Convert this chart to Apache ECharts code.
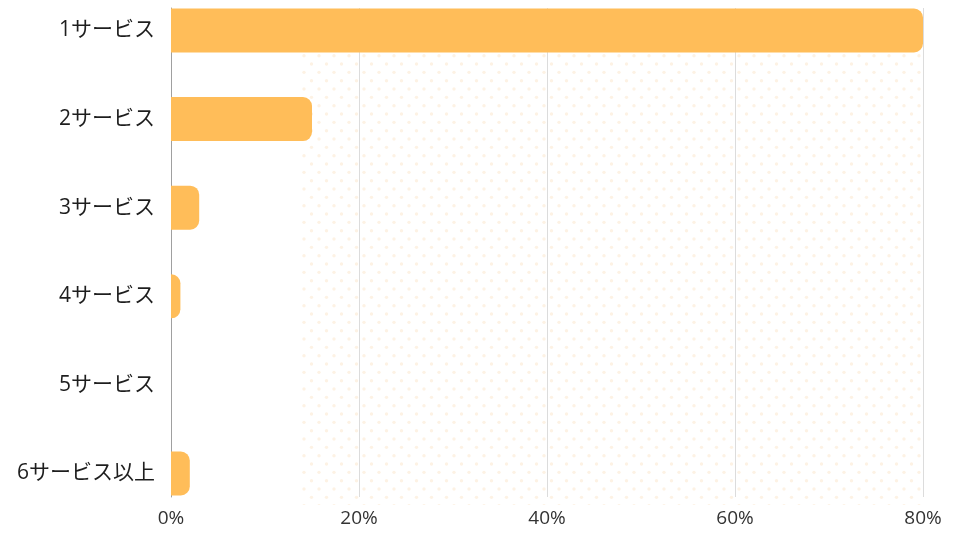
<!DOCTYPE html>
<html>
<head>
<meta charset="utf-8">
<script src="https://cdn.jsdelivr.net/npm/echarts@6/dist/echarts.min.js"></script>
<style>html,body{margin:0;padding:0;background:#fff}#c{width:960px;height:540px}</style>
</head>
<body>
<div id="c"></div>
<script>
const categories = ['1サービス', '2サービス', '3サービス', '4サービス', '5サービス', '6サービス以上'];
const values = [80, 15, 3, 1, 0, 2];
const xTicks = [0, 20, 40, 60, 80];

const tile = document.createElement('canvas');
tile.width = 15; tile.height = 50;
const tc = tile.getContext('2d');
tc.fillStyle = '#fdf2e4';
for (let k = 0; k < 6; k++) {
  const y = 5.7 + k * 50 / 6;
  const x = k % 2 === 0 ? 4 : 11.5;
  tc.beginPath(); tc.arc(x, y, 1.7, 0, Math.PI * 2); tc.fill();
}

const chart = echarts.init(document.getElementById('c'));
const font = '"Open Sans", "Noto Sans CJK JP", sans-serif';
const xMin = xTicks[0], xMax = xTicks[xTicks.length - 1];
chart.setOption({
  animation: false,
  grid: [
    { left: 171, right: 37, top: 8, bottom: 43 },
    { left: 171, right: 37, top: 30.5, bottom: 66.5 }
  ],
  graphic: [{
    type: 'rect', z: -10, silent: true,
    shape: { x: 300, y: 8, width: 624, height: 497 },
    style: { fill: { image: tile, repeat: 'repeat' } }
  }],
  xAxis: [{
    gridIndex: 0, type: 'value', min: xMin, max: xMax, interval: 20,
    axisLine: { show: false }, axisTick: { show: false },
    splitLine: { lineStyle: { color: '#dcdcdc', width: 1 } },
    axisLabel: { formatter: '{value}%', color: '#333', fontSize: 19, fontFamily: font, margin: 12 }
  }, {
    gridIndex: 1, type: 'value', min: xMin, max: xMax, show: false
  }],
  yAxis: [{
    gridIndex: 0, type: 'value', min: 0, max: 1,
    axisLine: { show: true, lineStyle: { color: '#a0a0a0', width: 1 } },
    axisTick: { show: false }, axisLabel: { show: false }, splitLine: { show: false }
  }, {
    gridIndex: 1, type: 'category', data: categories, inverse: true, boundaryGap: false,
    axisLine: { show: false }, axisTick: { show: false }, splitLine: { show: false },
    axisLabel: { color: '#1e1e1e', fontSize: 21, fontFamily: font, margin: 16 }
  }],
  series: [{
    type: 'bar', xAxisIndex: 1, yAxisIndex: 1, data: values, barWidth: 44, clip: false,
    itemStyle: { color: '#ffbd59', borderRadius: [0, 9, 9, 0] }
  }]
});
</script>
</body>
</html>
